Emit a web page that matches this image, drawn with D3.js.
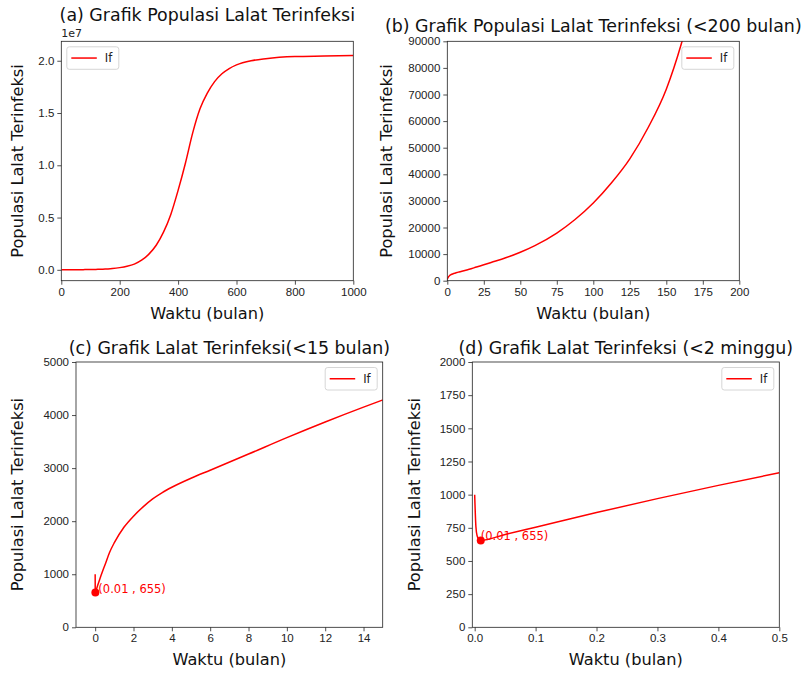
<!DOCTYPE html>
<html lang="id">
<head>
<meta charset="UTF-8">
<script src="https://cdn.jsdelivr.net/npm/d3@7"></script>
<style>
    body { margin: 0; background: #fff; }
    svg { font-family: "DejaVu Sans", sans-serif; }
    .tick text { font-size: 11.5px; fill: #222; }
    .tick line { stroke: #222; stroke-width: 0.8px; }
    .frame { fill: none; stroke: #222; stroke-width: 0.8px; }
    .curve { fill: none; stroke: red; stroke-width: 1.5px; }
</style>
</head>
<body>
<script>
// waktu (bulan) dan populasi lalat terinfeksi
var waktu = [0, 0.002, 0.004, 0.007, 0.01, 0.05, 0.1, 0.2, 0.3, 0.4, 0.5, 0.75, 1, 1.5, 2, 2.5, 3, 3.5, 4, 5, 6, 8,
    10, 12, 14, 15, 20, 25, 30, 40, 50, 60, 75, 87.5, 100, 112.5, 125, 137.5, 150, 160, 175, 200,
    225, 250, 275, 300, 325, 350, 375, 400, 425, 450, 475, 500, 525, 550, 575, 600, 650, 700, 800, 900, 1000];
var lalatIf = [1000, 760, 690, 662, 655, 700, 755, 865, 970, 1070, 1165, 1410, 1595, 1885, 2095, 2270, 2420, 2540, 2640, 2810, 2960, 3265,
    3575, 3870, 4150, 4285, 5150, 5980, 6850, 8600, 10700, 13200, 17900, 23000, 29200, 36800, 45800, 57500, 72000, 88500, 122000, 210000,
    340000, 550000, 920000, 1500000, 2350000, 3600000, 5300000, 7600000, 10200000, 13100000, 15400000, 16900000, 18000000, 18750000, 19250000, 19600000, 20000000, 20200000, 20400000, 20450000, 20500000];

// titik minimum yang diberi keterangan
var titikMin = { t: 0.01, v: 655, label: "(0.01 , 655)" };

var judul = ["(a) Grafik Populasi Lalat Terinfeksi",
             "(b) Grafik Populasi Lalat Terinfeksi (<200 bulan)",
             "(c) Grafik Lalat Terinfeksi(<15 bulan)",
             "(d) Grafik Lalat Terinfeksi (<2 minggu)"];

var xTicksA = [0, 200, 400, 600, 800, 1000];
var yTicksA = [0, 5e6, 1e7, 1.5e7, 2e7];
var xTicksB = [0, 25, 50, 75, 100, 125, 150, 175, 200];
var yTicksB = [0, 10000, 20000, 30000, 40000, 50000, 60000, 70000, 80000, 90000];
var xTicksC = [0, 2, 4, 6, 8, 10, 12, 14];
var yTicksC = [0, 1000, 2000, 3000, 4000, 5000];
var xTicksD = [0, 0.1, 0.2, 0.3, 0.4, 0.5];
var yTicksD = [0, 250, 500, 750, 1000, 1250, 1500, 1750, 2000];

var data = waktu.map(function(t, i) { return { t: t, v: lalatIf[i] }; });

var svg = d3.select("body").append("svg")
    .attr("width", 807)
    .attr("height", 675);

/* Panel settings: box on the page, axis limits, ticks */
var panels = [
    { x0: 61.3, x1: 353.3, y0: 41.3, y1: 280.7, xd: [0, 1000], yd: [-1.04e6, 2.186e7],
      xt: xTicksA, yt: yTicksA, xf: d3.format("d"), yf: function(d) { return (d / 1e7).toFixed(1); },
      title: judul[0], titleY: 21, yLabX: 38, legend: "left", offset: "1e7", note: false },
    { x0: 447.3, x1: 739.3, y0: 41.3, y1: 280.7, xd: [0, 200], yd: [0, 90000],
      xt: xTicksB, yt: yTicksB, xf: d3.format("d"), yf: d3.format("d"),
      title: judul[1], titleY: 32, yLabX: 55.5, legend: "right", note: false },
    { x0: 76, x1: 382.7, y0: 362, y1: 627.3, xd: [-1, 15], yd: [0, 5000],
      xt: xTicksC, yt: yTicksC, xf: d3.format("d"), yf: d3.format("d"),
      title: judul[2], titleY: 353.5, yLabX: 53, legend: "right", note: true, noteDx: 3 },
    { x0: 472.3, x1: 779.3, y0: 362, y1: 627.3, xd: [-0.0039, 0.5], yd: [0, 2000],
      xt: xTicksD, yt: yTicksD, xf: d3.format(".1f"), yf: d3.format("d"),
      title: judul[3], titleY: 353.5, yLabX: 52, legend: "right", note: true, noteDx: 0 }
];

panels.forEach(function(p, i) {
    var x = d3.scaleLinear().domain(p.xd).range([p.x0, p.x1]);
    var y = d3.scaleLinear().domain(p.yd).range([p.y1, p.y0]);
    var g = svg.append("g");

    // clip the curve to the axes box
    svg.append("clipPath").attr("id", "clip" + i)
        .append("rect")
        .attr("x", p.x0).attr("y", p.y0)
        .attr("width", p.x1 - p.x0).attr("height", p.y1 - p.y0);

    var line = d3.line()
        .x(function(d) { return x(d.t); })
        .y(function(d) { return y(d.v); })
        .curve(d3.curveMonotoneX);

    var shown = data.filter(function(d) { return d.t <= p.xd[1] * 1.2; });
    g.append("path")
        .datum(shown)
        .attr("class", "curve")
        .attr("clip-path", "url(#clip" + i + ")")
        .attr("d", line);

    // axes
    var xAxis = d3.axisBottom(x).tickValues(p.xt).tickFormat(p.xf)
        .tickSize(4).tickSizeOuter(0).tickPadding(3);
    var yAxis = d3.axisLeft(y).tickValues(p.yt).tickFormat(p.yf)
        .tickSize(4).tickSizeOuter(0).tickPadding(3);
    g.append("g").attr("transform", "translate(0," + p.y1 + ")").call(xAxis)
        .call(function(s) { s.select(".domain").remove(); });
    g.append("g").attr("transform", "translate(" + p.x0 + ",0)").call(yAxis)
        .call(function(s) { s.select(".domain").remove(); });
    g.selectAll(".tick text").attr("font-family", null).attr("font-size", null);

    g.append("rect").attr("class", "frame")
        .attr("x", p.x0).attr("y", p.y0)
        .attr("width", p.x1 - p.x0).attr("height", p.y1 - p.y0);

    // annotation of the minimum
    if (p.note) {
        g.append("circle")
            .attr("cx", x(titikMin.t)).attr("cy", y(titikMin.v))
            .attr("r", 4).attr("fill", "red");
        g.append("text")
            .attr("x", x(titikMin.t) + p.noteDx).attr("y", y(titikMin.v))
            .attr("fill", "red").attr("font-size", "11.5px")
            .text(titikMin.label);
    }

    // legend
    var lw = 52, lh = 22.5;
    var lx = p.legend == "left" ? p.x0 + 5.5 : p.x1 - 5.5 - lw;
    var ly = p.y0 + 5.5;
    var leg = g.append("g").attr("transform", "translate(" + lx + "," + ly + ")");
    leg.append("rect").attr("width", lw).attr("height", lh).attr("rx", 2.5)
        .attr("fill", "white").attr("fill-opacity", 0.8)
        .attr("stroke", "#cccccc").attr("stroke-width", 0.8);
    leg.append("line").attr("x1", 4.5).attr("x2", 30).attr("y1", lh / 2).attr("y2", lh / 2)
        .attr("stroke", "red").attr("stroke-width", 1.5);
    leg.append("text").attr("x", 38).attr("y", lh / 2 + 4)
        .attr("font-size", "11.5px").attr("fill", "#222").text("If");

    if (p.offset) {
        g.append("text").attr("x", p.x0).attr("y", p.y0 - 4)
            .attr("font-size", "11px").attr("fill", "#222").text(p.offset);
    }

    // title and axis labels
    g.append("text")
        .attr("x", (p.x0 + p.x1) / 2).attr("y", p.titleY)
        .attr("text-anchor", "middle").attr("font-size", "17.4px").attr("fill", "#111")
        .text(p.title);
    g.append("text")
        .attr("x", (p.x0 + p.x1) / 2).attr("y", p.y1 + 38)
        .attr("text-anchor", "middle").attr("font-size", "16.2px").attr("fill", "#111")
        .text("Waktu (bulan)");
    g.append("text")
        .attr("transform", "translate(" + (p.x0 - p.yLabX) + "," + ((p.y0 + p.y1) / 2) + ") rotate(-90)")
        .attr("text-anchor", "middle").attr("font-size", "16.2px").attr("fill", "#111")
        .text("Populasi Lalat Terinfeksi");
});
</script>
</body>
</html>
